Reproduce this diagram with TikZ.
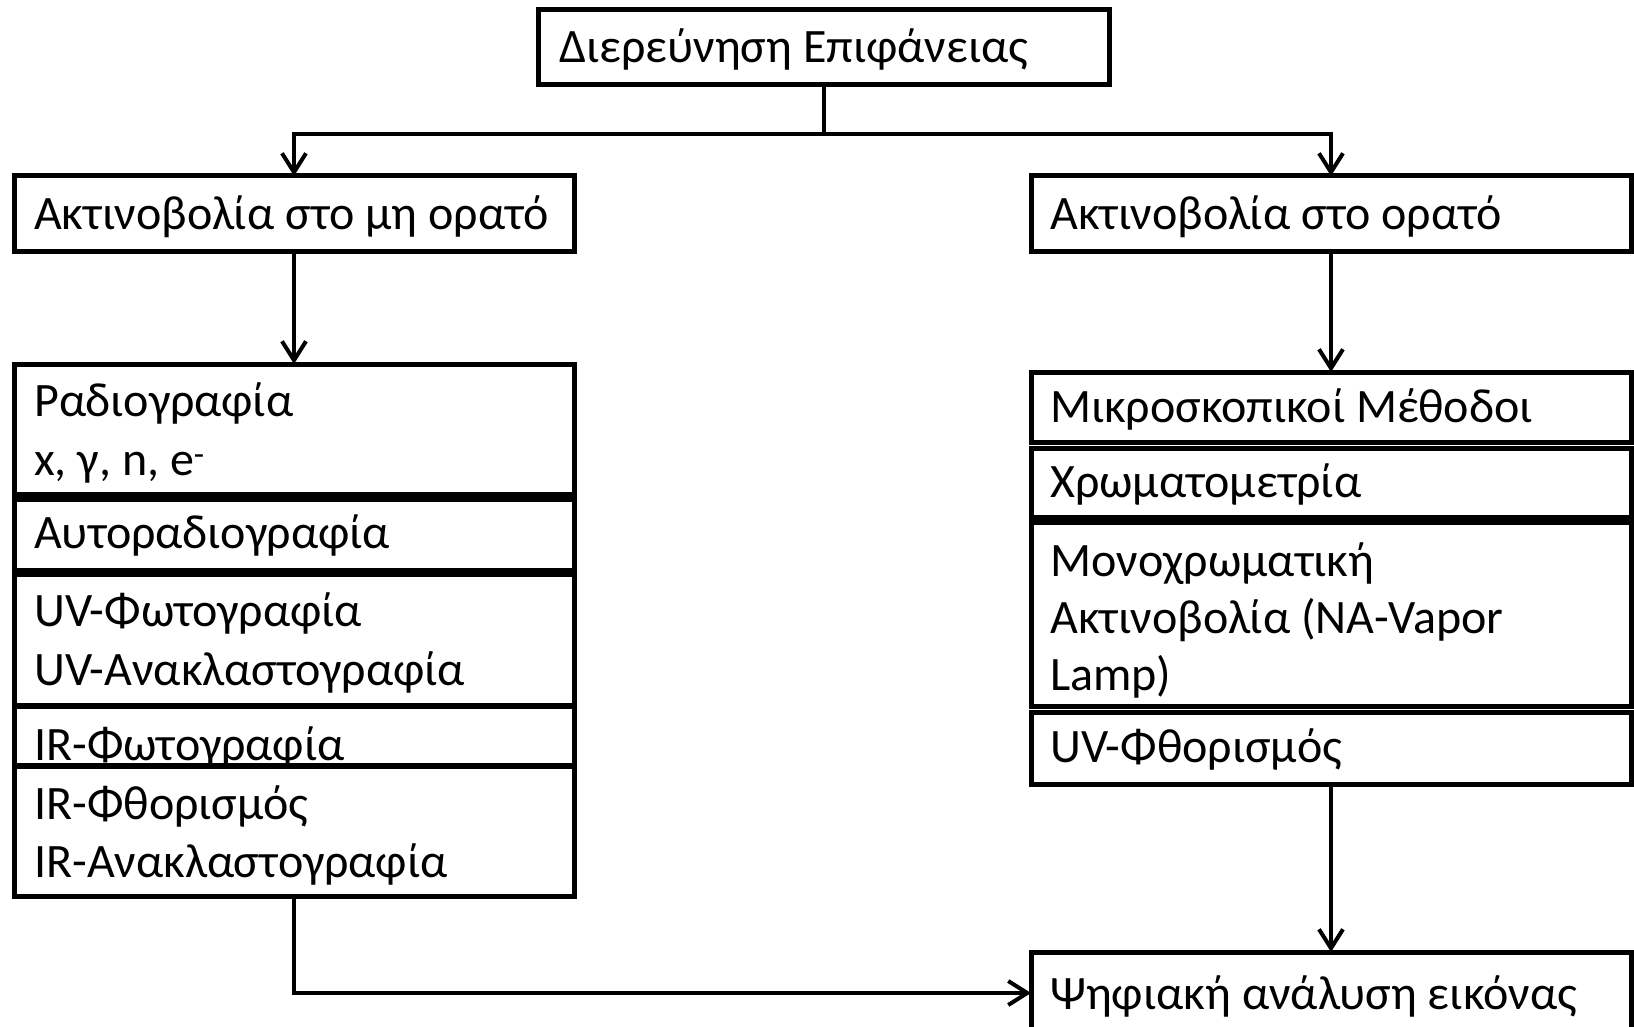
\documentclass[tikz,border=0pt]{standalone}
\usepackage{fontspec}
\setmainfont{Carlito}
\usetikzlibrary{arrows.meta}
\begin{document}
\begin{tikzpicture}[x=1pt,y=-1pt,
  box/.style={draw=black,line width=5pt,fill=white,anchor=north west,inner sep=0pt,outer sep=0pt},
  lbl/.style={anchor=base west,inner sep=0pt,font=\fontsize{48}{58}\selectfont},
  conn/.style={line width=4pt,draw=black},
  arr/.style={conn,-{Straight Barb[length=19pt,width=24pt]}}]
\useasboundingbox (0,0) rectangle (1634,1027);
\clip (0,0) rectangle (1634,1027);
\fill[white] (0,0) rectangle (1634,1027);
% top
\node[box,minimum width=571pt,minimum height=75pt] (top) at (538,10) {};
\node[lbl] (ttop) at (559,63) {Διερεύνηση Επιφάνειας};
% second row
\node[box,minimum width=560pt,minimum height=76pt] (left) at (14,176) {};
\node[lbl] (tleft) at (34,230) {Ακτινοβολία στο μη ορατό};
\node[box,minimum width=600pt,minimum height=76pt] (right) at (1031,176) {};
\node[lbl] (tright) at (1050,230) {Ακτινοβολία στο ορατό};
% left stack
\node[box,minimum width=560pt,minimum height=130pt] (r1) at (14,364) {};
\node[lbl] (tr1a) at (34,416) {Ραδιογραφία};
\node[lbl] (tr1b) at (34,475) {x, γ, n, e\textsuperscript{-}};
\node[box,minimum width=560pt,minimum height=71pt] (r2) at (14,499) {};
\node[lbl] (tr2) at (34,548) {Αυτοραδιογραφία};
\node[box,minimum width=560pt,minimum height=131pt] (r3) at (14,574) {};
\node[lbl] (tr3a) at (34,626) {UV-Φωτογραφία};
\node[lbl] (tr3b) at (34,685) {UV-Ανακλαστογραφία};
\node[box,minimum width=560pt,minimum height=59pt] (r4) at (14,706) {};
\node[lbl] (tr4) at (34,760) {IR-Φωτογραφία};
\node[box,minimum width=560pt,minimum height=130pt] (r5) at (14,766) {};
\node[lbl] (tr5a) at (34,819) {IR-Φθορισμός};
\node[lbl] (tr5b) at (34,877) {IR-Ανακλαστογραφία};
% right stack
\node[box,minimum width=600pt,minimum height=70pt] (m1) at (1031,372) {};
\node[lbl] (tm1) at (1050,422) {Μικροσκοπικοί Μέθοδοι};
\node[box,minimum width=600pt,minimum height=69pt] (m2) at (1031,448) {};
\node[lbl] (tm2) at (1050,497) {Χρωματομετρία};
\node[box,minimum width=600pt,minimum height=184pt] (m3) at (1031,522) {};
\node[lbl] (tm3a) at (1050,576) {Μονοχρωματική};
\node[lbl] (tm3b) at (1050,633) {Ακτινοβολία (NA-Vapor};
\node[lbl] (tm3c) at (1050,690) {Lamp)};
\node[box,minimum width=600pt,minimum height=72pt] (m4) at (1031,712) {};
\node[lbl] (tm4) at (1050,762) {UV-Φθορισμός};
% final
\node[box,minimum width=600pt,minimum height=82pt] (fin) at (1031,952) {};
\node[lbl] (tfin) at (1050,1009) {Ψηφιακή ανάλυση εικόνας};
% connectors
\coordinate (j) at (top.south |- 0,134);
\draw[conn] (top.south) -- (j);
\draw[arr] (j) -| (left.north);
\draw[arr] (j) -| (right.north);
\draw[arr] (left.south) -- (r1.north);
\draw[arr] (right.south) -- (m1.north);
\draw[arr] (m4.south) -- (fin.north);
\draw[arr] (r5.south) |- (fin.west);
\end{tikzpicture}
\end{document}
